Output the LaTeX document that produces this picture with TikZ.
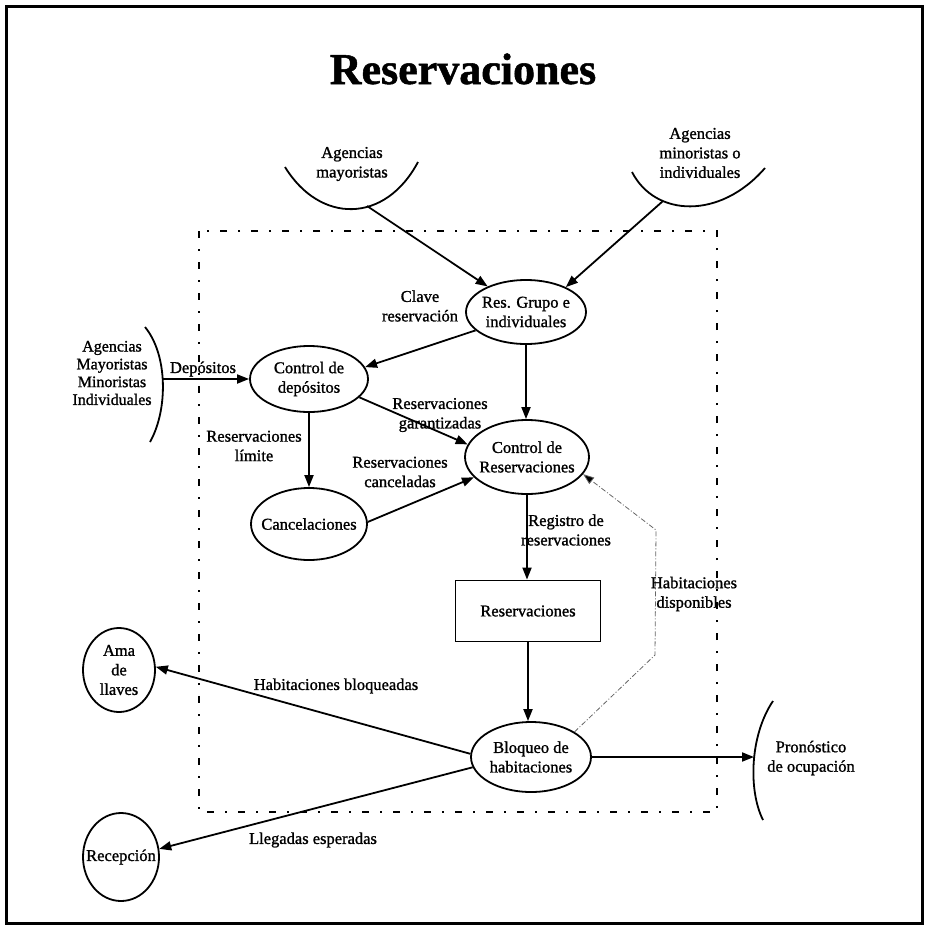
\documentclass[tikz,border=0pt]{standalone}
\usepackage{fontspec}
\setmainfont{Liberation Serif}[FakeBold=1.2]
\usetikzlibrary{arrows.meta,shapes.geometric}
\newcommand\dfdtext{\fontsize{16.5}{19.5}\selectfont}
\begin{document}
\begin{tikzpicture}[x=1pt,y=-1pt,
  txt/.style={align=center,font=\dfdtext,inner sep=0pt},
  proc/.style={ellipse,draw,line width=1.8pt,inner xsep=-20pt,inner ysep=-6pt,align=center,font=\dfdtext},
  store/.style={rectangle,draw,line width=1.8pt,inner sep=0pt,font=\dfdtext},
  ent/.style={line width=1.8pt},
  arr/.style={-{Triangle[length=12pt,width=9pt]},line width=1.8pt},
  avail/.style={-{Triangle[length=11pt,width=8pt,fill=black]},line width=0.8pt,draw=black!60,dash pattern=on 5pt off 2pt on 1pt off 2pt},
  bound/.style={line width=1.8pt,dash pattern=on 7pt off 11pt on 2pt off 11pt}]
\useasboundingbox (0,0) rectangle (929,929);
% outer frame
\draw[line width=3pt] (6,6) rectangle (922,923);
% title
\node[anchor=base,font=\fontsize{44}{50}\selectfont\bfseries,inner sep=0pt] (title) at (463,84) {Reservaciones};

% system boundary
\draw[bound] (199,231) rectangle (717,812);

% external entities (arcs)
\draw[ent] (285,167) .. controls (320,224) and (385,224) .. (418,162);
\coordinate (magb) at (367,206);
\node[txt] (mag) at (352,164) {Agencias\\mayoristas};

\draw[ent] (632,172) .. controls (655,217) and (720,220) .. (765,168);
\coordinate (minb) at (663,201);
\node[txt] (min) at (700,153) {Agencias\\minoristas o\\individuales};

\draw[ent] (145,327) .. controls (168,355) and (168,410) .. (150,442);
\coordinate (extr) at (163,379);
\node[txt,font=\fontsize{16}{17.8}\selectfont] (ext) at (112,373) {Agencias\\Mayoristas\\Minoristas\\Individuales};

\draw[ent] (773,701) .. controls (750,735) and (748,790) .. (763,820);
\coordinate (pronl) at (754,757);
\node[txt] (pron) at (811,758) {Pronóstico\\de ocupación};

% processes
\node[proc,minimum width=120pt,minimum height=64pt] (res) at (526,312) {Res. Grupo e\\individuales};
\node[proc,minimum width=118pt,minimum height=66pt] (cdep) at (309,379) {Control de\\depósitos};
\node[proc,minimum width=124pt,minimum height=74pt] (cres) at (527,457) {Control de\\Reservaciones};
\node[proc,minimum width=116pt,minimum height=72pt] (canc) at (309,524) {Cancelaciones};
\node[store,minimum width=145pt,minimum height=61pt] (rstore) at (528,611) {Reservaciones};
\node[proc,minimum width=120pt,minimum height=70pt] (bloq) at (531,757) {Bloqueo de\\habitaciones};
\node[proc,minimum width=72pt,minimum height=84pt] (ama) at (119,670) {Ama\\de\\llaves};
\node[proc,minimum width=76pt,minimum height=88pt] (recep) at (121,857) {Recepción};

% flows
\draw[arr] (magb) -- (res);
\draw[arr] (minb) -- (res.32);
\draw[arr] (res.200) -- (cdep.12);
\draw[arr] (extr) -- (extr -| cdep.west);
\draw[arr] (cdep.-20) -- (cres.168);
\draw[arr] (cdep.south) -- (canc.north);
\draw[arr] (canc.2) -- (cres.201);
\draw[arr] (res.south) -- (res.south |- cres.north);
\draw[arr] (cres.south) -- (cres.south |- rstore.north);
\draw[arr] (rstore.south) -- (rstore.south |- bloq.north);
\draw[arr] (bloq.177) -- (ama.5);
\draw[arr] (bloq.190) -- (recep.12);
\draw[arr] (bloq.east) -- (pronl);
\coordinate (hd1) at (655,655);
\coordinate (hd2) at (656,530);
\draw[avail] (bloq.30) -- (hd1) -- (hd2) -- (cres.-17);

% flow labels
\node[txt] (ldep) at (203,369) {Depósitos};
\node[txt] (lclave) at (420,306) {Clave\\reservación};
\node[txt] (lgar) at (440,415) {Reservaciones\\garantizadas};
\node[txt] (llim) at (254,446) {Reservaciones\\límite};
\node[txt] (lcan) at (400,472) {Reservaciones\\canceladas};
\node[txt] (lreg) at (566,530) {Registro de\\reservaciones};
\node[txt] (ldisp) at (694,594) {Habitaciones\\disponibles};
\node[txt] (lbloq) at (336,686) {Habitaciones bloqueadas};
\node[txt] (lleg) at (313,840) {Llegadas esperadas};
\end{tikzpicture}
\end{document}
